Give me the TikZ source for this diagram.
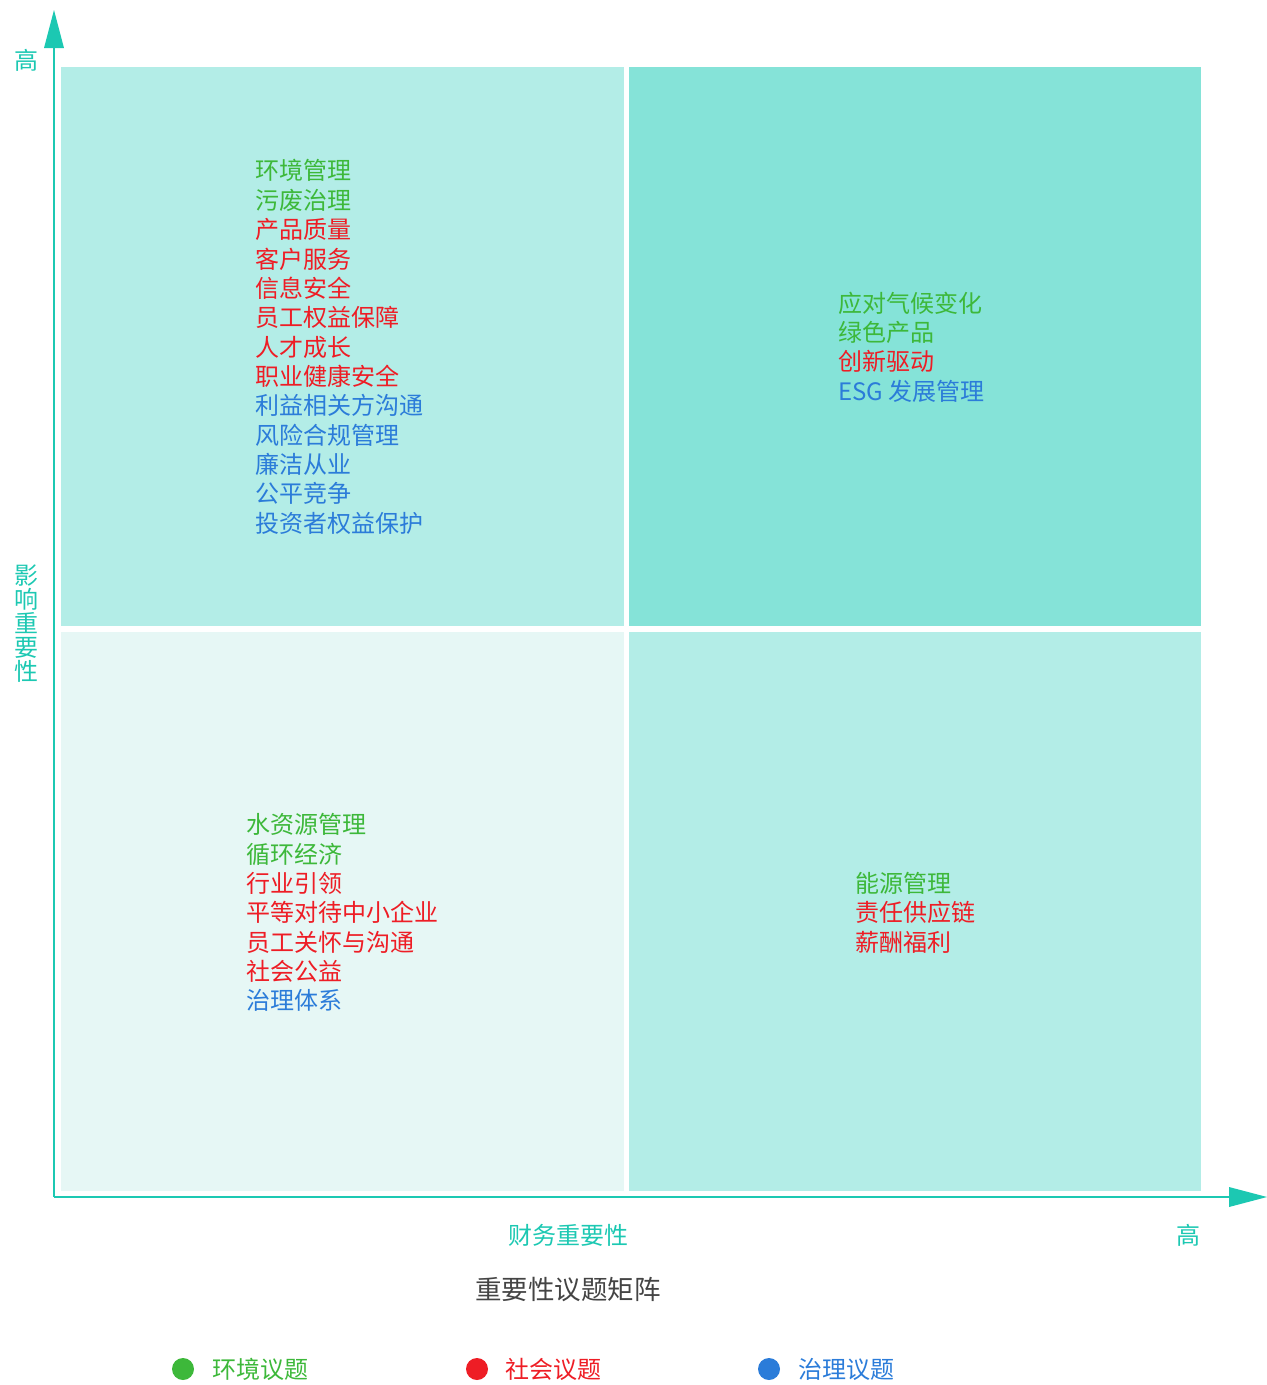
\documentclass[tikz,border=0pt]{standalone}
\usepackage{fontspec}
\setmainfont{Noto Sans CJK SC}
\usepackage{tikz}

\definecolor{axisteal}{HTML}{1CC8B2}
\definecolor{qlight}{HTML}{E6F7F5}
\definecolor{qmid}{HTML}{B3EDE7}
\definecolor{qdark}{HTML}{85E3D8}
\definecolor{envgreen}{HTML}{3DB83A}
\definecolor{socred}{HTML}{EE1D25}
\definecolor{govblue}{HTML}{2B7CD9}
\definecolor{titlegray}{HTML}{444444}

\begin{document}
\begin{tikzpicture}[x=1pt,y=-1pt]
    \tikzset{every node/.style={inner sep=0pt, font=\fontsize{24}{28}\selectfont},
        env/.style={text=envgreen, anchor=west},
        soc/.style={text=socred, anchor=west},
        gov/.style={text=govblue, anchor=west},
        axlabel/.style={text=axisteal}}
    \useasboundingbox (0,0) rectangle (1267,1385);
    % quadrants
    \fill [qmid] (61,67) rectangle (624,626);
    \fill [qdark] (629,67) rectangle (1201,626);
    \fill [qlight] (61,632) rectangle (624,1191);
    \fill [qmid] (629,632) rectangle (1201,1191);
    % axes
    \coordinate (origin) at (54,1197);
    \coordinate (ytip) at (54,10);
    \coordinate (xtip) at (1267,1197);
    \draw [axisteal, line width=1.5pt] (origin) -- (54,46);
    \fill [axisteal] (ytip) -- (44,48) -- (64,48) -- cycle;
    \draw [axisteal, line width=1.5pt] (origin) -- (1231,1197);
    \fill [axisteal] (xtip) -- (1229,1187) -- (1229,1207) -- cycle;
    % axis labels
    \node [axlabel] (yhigh) at (27,60) {高};
    \node [axlabel, align=center, font=\fontsize{24}{24}\selectfont] (ylabel) at (27,624) {影\\响\\重\\要\\性};
    \node [axlabel] (xlabel) at (568,1235) {财务重要性};
    \node [axlabel] (xhigh) at (1188,1235) {高};
    \node [text=titlegray, font=\fontsize{26.5}{30}\selectfont] (title) at (568,1290) {重要性议题矩阵};
    % top left
    \node [env] (tl1) at (255,170) {环境管理};
    \node [env] (tl2) at (255,200) {污废治理};
    \node [soc] (tl3) at (255,229) {产品质量};
    \node [soc] (tl4) at (255,259) {客户服务};
    \node [soc] (tl5) at (255,288) {信息安全};
    \node [soc] (tl6) at (255,317) {员工权益保障};
    \node [soc] (tl7) at (255,347) {人才成长};
    \node [soc] (tl8) at (255,376) {职业健康安全};
    \node [gov] (tl9) at (255,405) {利益相关方沟通};
    \node [gov] (tl10) at (255,435) {风险合规管理};
    \node [gov] (tl11) at (255,464) {廉洁从业};
    \node [gov] (tl12) at (255,493) {公平竞争};
    \node [gov] (tl13) at (255,523) {投资者权益保护};
    % top right
    \node [env] (tr1) at (838,303) {应对气候变化};
    \node [env] (tr2) at (838,332) {绿色产品};
    \node [soc] (tr3) at (838,361) {创新驱动};
    \node [gov] (tr4) at (838,391) {ESG 发展管理};
    % bottom left
    \node [env] (bl1) at (246,824) {水资源管理};
    \node [env] (bl2) at (246,854) {循环经济};
    \node [soc] (bl3) at (246,883) {行业引领};
    \node [soc] (bl4) at (246,912) {平等对待中小企业};
    \node [soc] (bl5) at (246,942) {员工关怀与沟通};
    \node [soc] (bl6) at (246,971) {社会公益};
    \node [gov] (bl7) at (246,1000) {治理体系};
    % bottom right
    \node [env] (br1) at (855,883) {能源管理};
    \node [soc] (br2) at (855,912) {责任供应链};
    \node [soc] (br3) at (855,942) {薪酬福利};
    % legend
    \fill [envgreen] (183,1369) circle (11);
    \node [env] (legenv) at (212,1369) {环境议题};
    \fill [socred] (477,1369) circle (11);
    \node [soc] (legsoc) at (505,1369) {社会议题};
    \fill [govblue] (769,1369) circle (11);
    \node [gov] (leggov) at (798,1369) {治理议题};
\end{tikzpicture}
\end{document}
